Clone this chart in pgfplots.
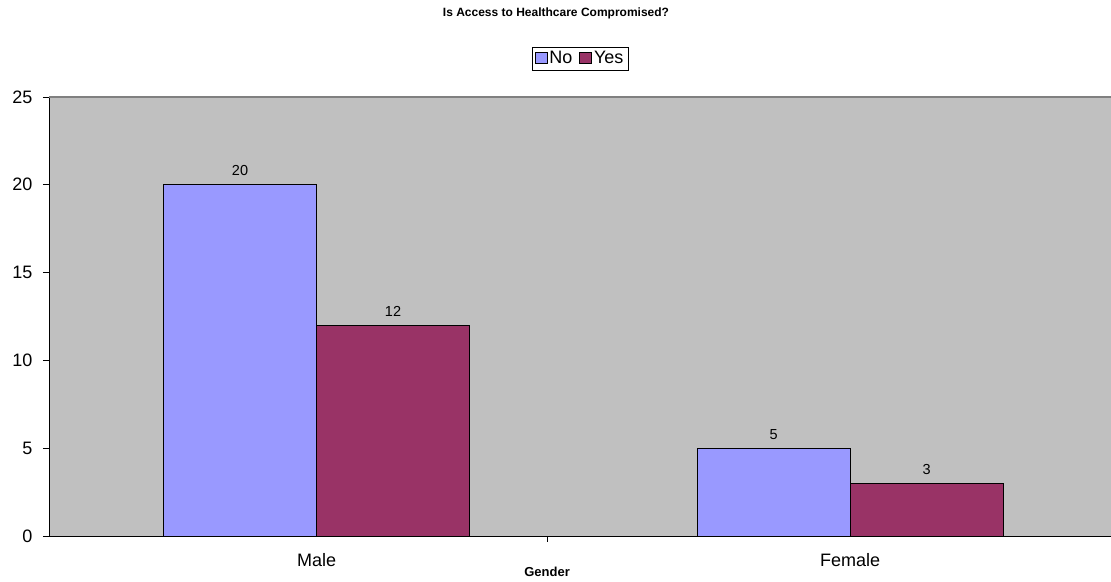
\documentclass[border=0pt]{standalone}
\usepackage{fontspec}
\setmainfont{Liberation Sans}
\usepackage{pgfplots}
\pgfplotsset{compat=1.18}
\definecolor{noc}{HTML}{9999FF}
\definecolor{yesc}{HTML}{993366}
\definecolor{bgc}{HTML}{C0C0C0}
\begin{document}
\begin{tikzpicture}
\begin{axis}[
  at={(0pt,0pt)}, anchor=south west,
  width=1062pt, height=439pt, scale only axis,
  xmin=-0.5014, xmax=1.489, ymin=0, ymax=25,
  axis x line*=bottom, axis y line*=left,
  axis line style={black, line width=1pt},
  axis background/.style={fill=bgc},
  ytick={0,5,10,15,20,25},
  xtick={0,1}, xticklabels={Male,Female},
  x tick style={draw=none},
  y tick style={black, line width=0.8pt},
  tick align=outside, major tick length=6pt,
  /pgf/number format/assume math mode=true,
  yticklabel style={font=\fontsize{18}{20}\selectfont, xshift=-7pt},
  xticklabel style={font=\fontsize{18}{20}\selectfont, yshift=-8pt},
  ybar=0pt, bar width=0.2868,
  nodes near coords,
  nodes near coords style={font=\fontsize{14.5}{16}\selectfont, yshift=5pt},
  legend columns=2,
  legend style={at={(0.5,1)}, anchor=south, yshift=27pt, draw=black,
    font=\fontsize{18}{20}\selectfont, inner sep=2.5pt,
    /tikz/every even column/.append style={column sep=5pt}},
  legend image code/.code={\draw[#1, draw=black, line width=0.8pt] (0pt,-5.5pt) rectangle (12pt,5.5pt);},
  clip=false,
]
\addplot[fill=noc, draw=black, line width=1pt] coordinates {(0,20) (1,5)};
\addplot[fill=yesc, draw=black, line width=1pt] coordinates {(0,12) (1,3)};
\legend{No,Yes}
\draw[gray, line width=1.2pt] (rel axis cs:0,1) -- (rel axis cs:1,1);
\draw[black, line width=0.8pt] (rel axis cs:0.469,0) -- ++(0pt,-6pt);
\node[font=\bfseries\fontsize{12}{14}\selectfont] at (rel axis cs:0.4774,1) [yshift=84pt] {Is Access to Healthcare Compromised?};
\node[font=\bfseries\fontsize{13}{15}\selectfont] at (rel axis cs:0.469,0) [yshift=-36pt] {Gender};
\end{axis}
\pgfresetboundingbox
\path[use as bounding box] (-49pt,-45pt) rectangle (1062pt,536pt);
\end{tikzpicture}
\end{document}
